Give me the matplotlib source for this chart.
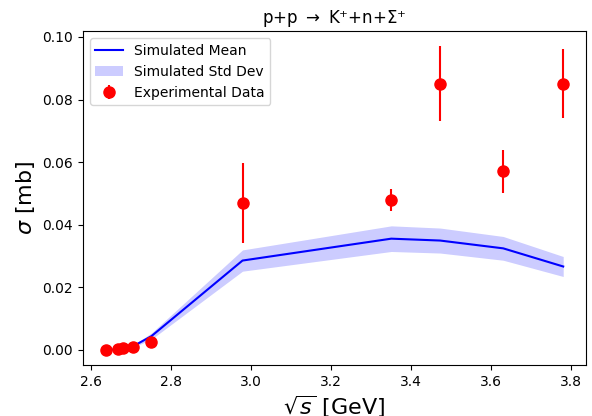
import numpy as np
import matplotlib.pyplot as plt

# energias (sqrt(s)) em GeV
sqrt_s = np.array([2.636, 2.667, 2.678, 2.703, 2.75, 2.978, 3.35, 3.472, 3.63, 3.78])
# dados experimentais
sigma_exp = np.array([0.0, 0.0002, 0.0004, 0.0007, 0.0025, 0.047, 0.048, 0.085, 0.057, 0.085])
erro_exp = np.array([0.0, 0.0, 0.0, 0.0, 0.0, 0.0128, 0.0035, 0.012, 0.007, 0.011])
# simulacao
sigma_sim = np.array([0.0, 0.0, 0.0002, 0.001, 0.0043, 0.0285, 0.0355, 0.0349, 0.0324, 0.0266])
std_sim = np.array([0.0, 0.0, 0.0001, 0.0003, 0.001, 0.0034, 0.0041, 0.004, 0.0038, 0.0032])

fig, ax = plt.subplots(figsize=(5.92, 4.16), dpi=100)
fig.subplots_adjust(left=0.14, right=0.99, top=0.925, bottom=0.123)

ax.plot(sqrt_s, sigma_sim, color='blue', lw=1.5, label='Simulated Mean')
ax.fill_between(sqrt_s, sigma_sim - std_sim, sigma_sim + std_sim, color='blue', alpha=0.2,
                lw=0, label='Simulated Std Dev')
ax.errorbar(sqrt_s, sigma_exp, yerr=erro_exp, fmt='o', color='red', markersize=8,
            label='Experimental Data')

ax.set_title('p+p $\\rightarrow$ K⁺+n+Σ⁺')
ax.set_xlabel('$\\sqrt{s}$ [GeV]', fontsize=16)
ax.set_ylabel('$\\sigma$ [mb]', fontsize=16)
ax.legend(loc='upper left')

plt.savefig('out.png')
